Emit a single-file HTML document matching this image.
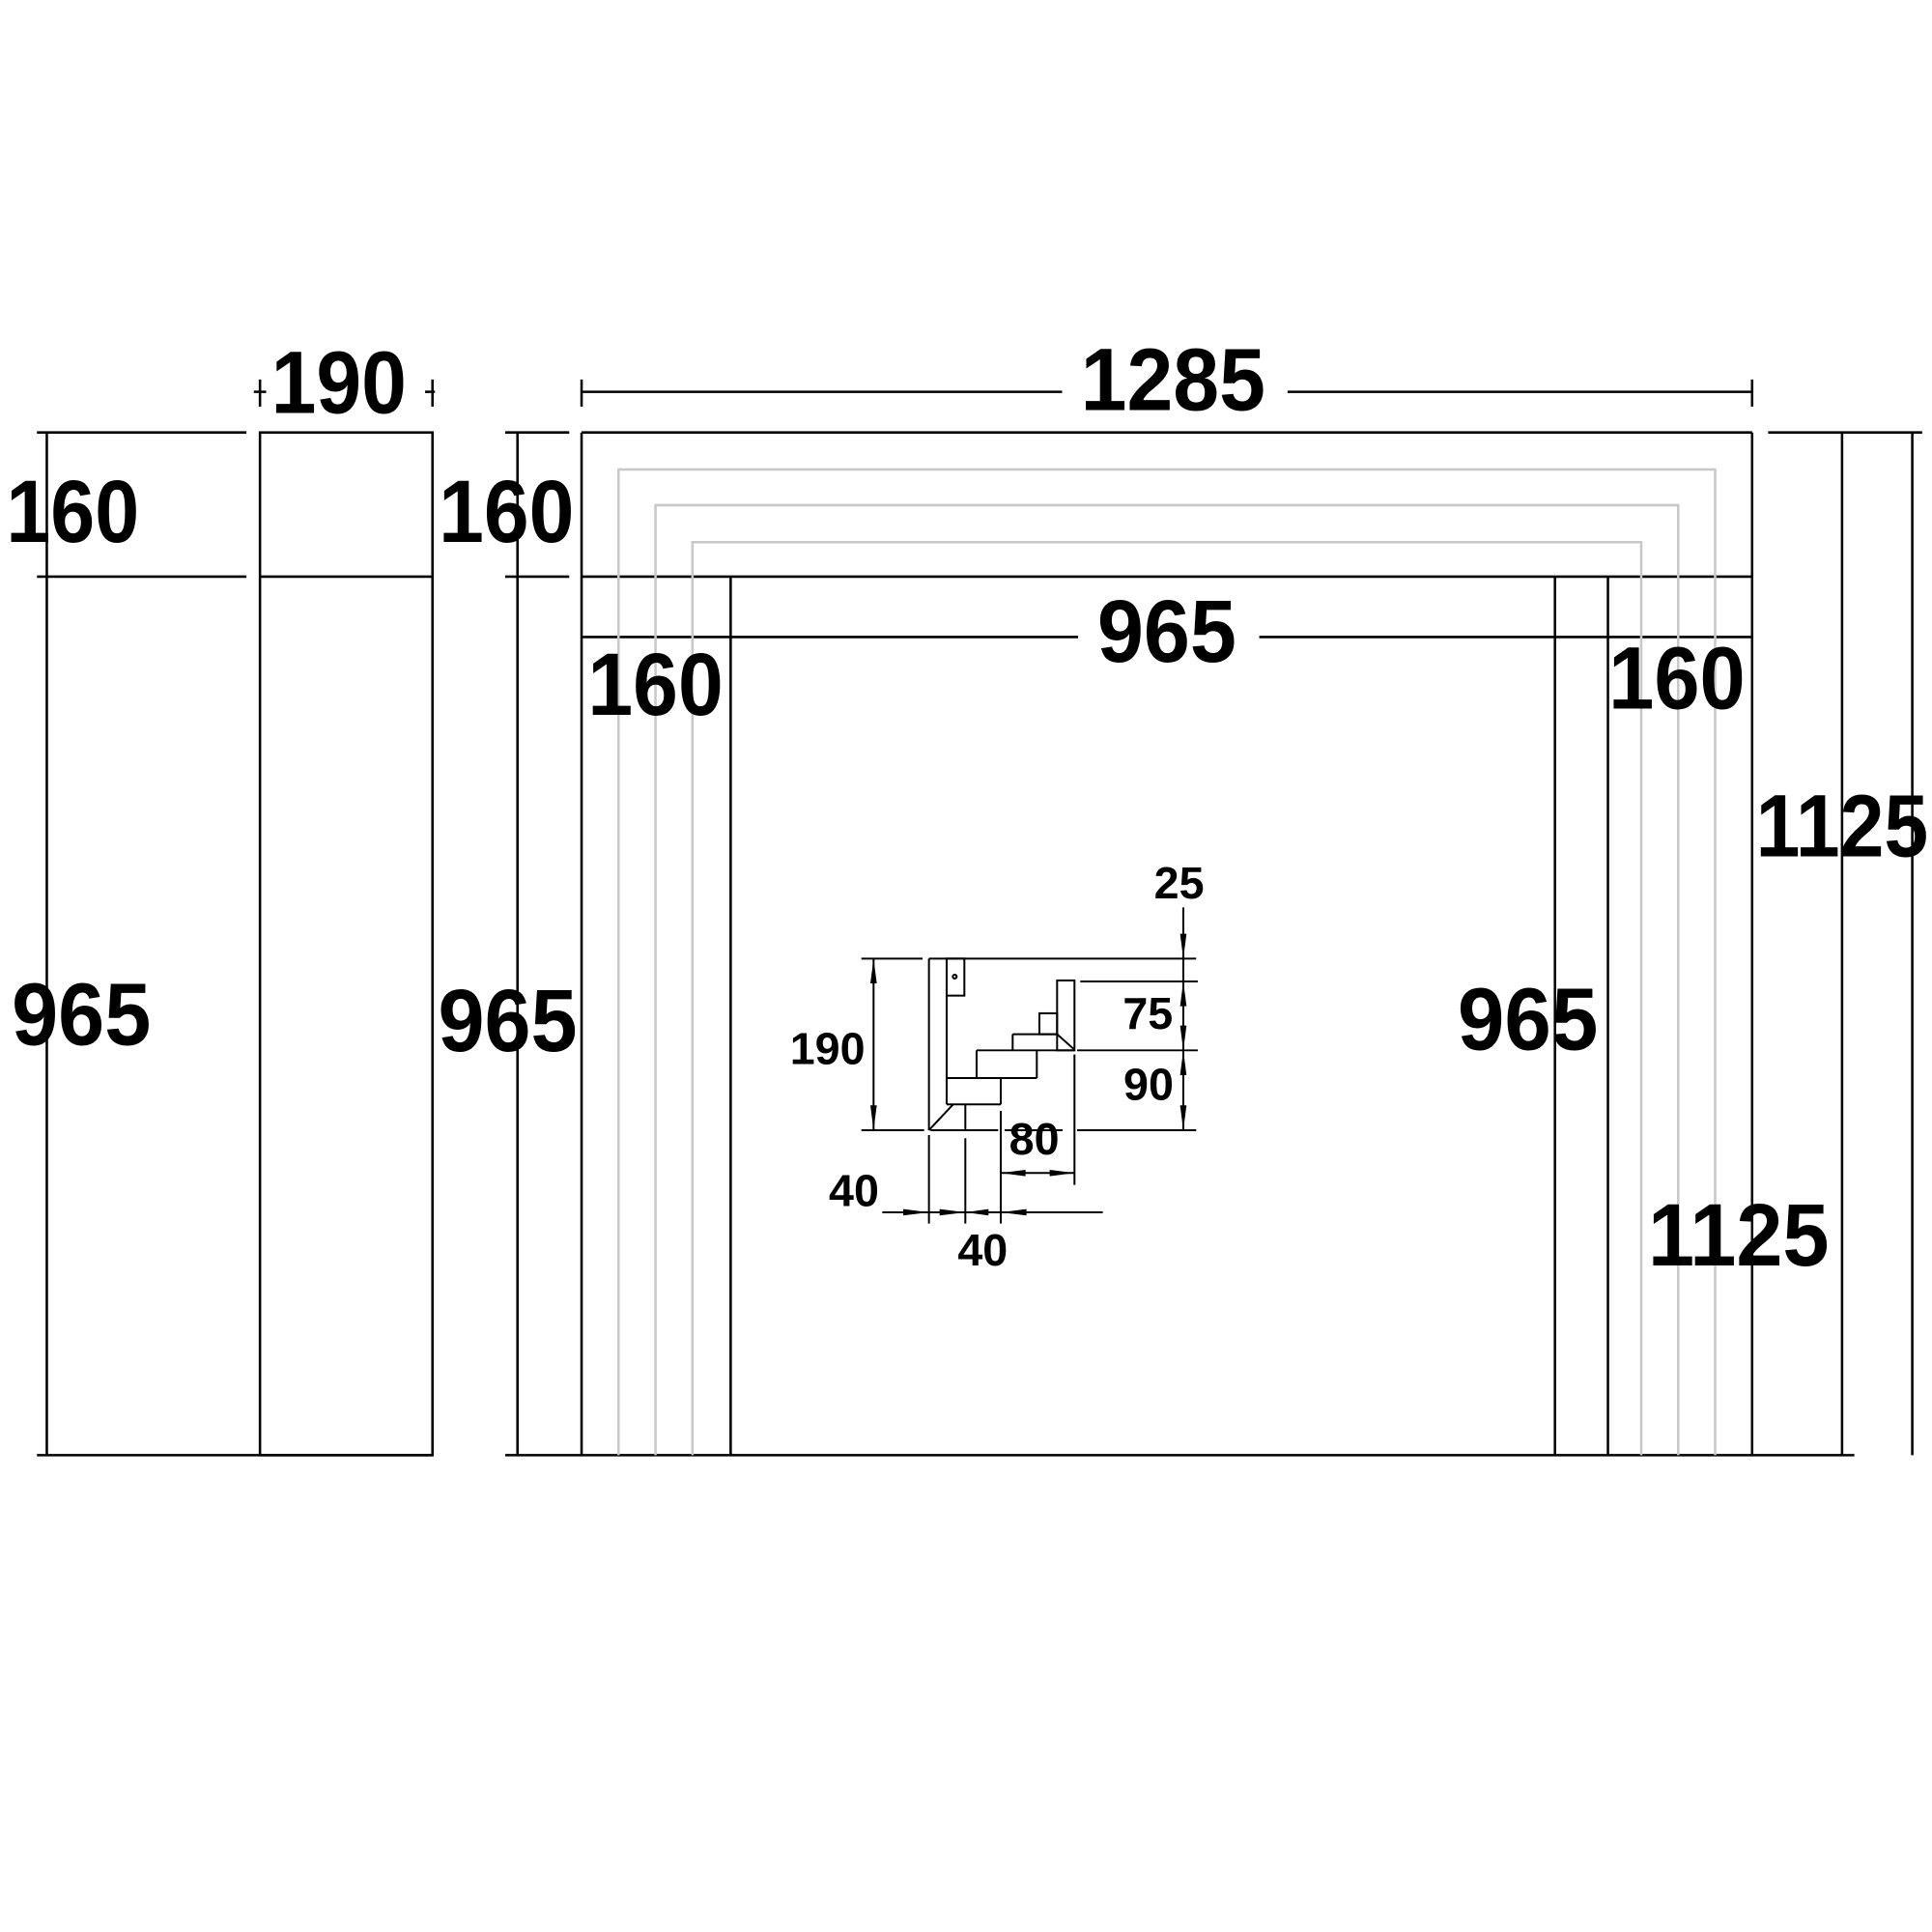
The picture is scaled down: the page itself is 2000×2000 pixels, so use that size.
<!DOCTYPE html>
<html><head><style>html,body{margin:0;padding:0;background:#fff}svg{display:block}</style></head>
<body>
<svg width="2000" height="2000" viewBox="0 0 1568 1568" xmlns="http://www.w3.org/2000/svg" font-family="Liberation Sans, sans-serif" font-weight="bold">
<g stroke="#000" stroke-width="2" fill="none">
<rect x="211" y="351" width="140" height="830"/>
<line x1="211" y1="468" x2="351" y2="468"/>
<line x1="38" y1="351" x2="38" y2="1181"/>
<line x1="30" y1="351" x2="200" y2="351"/>
<line x1="30" y1="468" x2="200" y2="468"/>
<line x1="30" y1="1181" x2="351" y2="1181"/>
<line x1="211" y1="308" x2="211" y2="330"/><line x1="351" y1="308" x2="351" y2="330"/>
<line x1="206" y1="318" x2="216" y2="318"/><line x1="345" y1="318" x2="353" y2="318"/>
<line x1="472" y1="351" x2="1422" y2="351"/>
<line x1="472" y1="351" x2="472" y2="1181"/>
<line x1="1422" y1="351" x2="1422" y2="1181"/>
<line x1="472" y1="468" x2="1422" y2="468"/>
<line x1="593" y1="468" x2="593" y2="1181"/>
<line x1="1262" y1="468" x2="1262" y2="1181"/>
<line x1="1305" y1="468" x2="1305" y2="1181"/>
<line x1="410" y1="1181" x2="1505" y2="1181"/>
<line x1="420" y1="351" x2="420" y2="1181"/>
<line x1="410" y1="351" x2="462" y2="351"/>
<line x1="410" y1="468" x2="462" y2="468"/>
<line x1="472" y1="308" x2="472" y2="330"/><line x1="1422" y1="308" x2="1422" y2="330"/>
<line x1="472" y1="318" x2="862" y2="318"/><line x1="1045" y1="318" x2="1422" y2="318"/>
<line x1="472" y1="517" x2="875" y2="517"/><line x1="1022" y1="517" x2="1422" y2="517"/>
<line x1="1435" y1="351" x2="1560" y2="351"/>
<line x1="1495" y1="351" x2="1495" y2="1181"/>
<line x1="1552" y1="351" x2="1552" y2="1181"/>
</g>
<g stroke="#c8c8c8" stroke-width="2" fill="none">
<polyline points="502,1181 502,381 1392,381 1392,1181"/>
<polyline points="532,1181 532,410 1362,410 1362,1181"/>
<polyline points="562,1181 562,440 1332,440 1332,1181"/>
</g>
<g font-size="72" fill="#000" text-anchor="middle">
<text x="952" y="333" textLength="150" lengthAdjust="spacingAndGlyphs">1285</text>
<text x="275" y="335" textLength="110" lengthAdjust="spacingAndGlyphs">190</text>
<text x="59" y="440" textLength="108" lengthAdjust="spacingAndGlyphs">160</text>
<text x="66" y="848" textLength="113" lengthAdjust="spacingAndGlyphs">965</text>
<text x="411" y="440" textLength="110" lengthAdjust="spacingAndGlyphs">160</text>
<text x="412" y="853" textLength="113" lengthAdjust="spacingAndGlyphs">965</text>
<text x="947" y="537" textLength="113" lengthAdjust="spacingAndGlyphs">965</text>
<text x="532" y="580" textLength="110" lengthAdjust="spacingAndGlyphs">160</text>
<text x="1361" y="575" textLength="111" lengthAdjust="spacingAndGlyphs">160</text>
<text x="1240" y="852" textLength="114" lengthAdjust="spacingAndGlyphs">965</text>
<text x="1495" y="695" textLength="140" lengthAdjust="spacingAndGlyphs">1125</text>
<text x="1411" y="1027" textLength="147" lengthAdjust="spacingAndGlyphs">1125</text>
</g>
<g transform="scale(0.784) translate(800,880) scale(0.3333)">
<g stroke="#000" stroke-width="6" fill="none">
<line x1="275" y1="337" x2="465" y2="337"/><line x1="485" y1="337" x2="1315" y2="337"/>
<line x1="485" y1="337" x2="485" y2="870"/>
<line x1="540" y1="337" x2="540" y2="790"/>
<rect x="540" y="337" width="55" height="115"/>
<circle cx="565" cy="393" r="6"/>
<line x1="485" y1="870" x2="560" y2="790"/>
<line x1="540" y1="790" x2="708" y2="790"/>
<line x1="708" y1="708" x2="708" y2="790"/>
<line x1="540" y1="708" x2="820" y2="708"/>
<line x1="633" y1="622" x2="633" y2="708"/>
<line x1="820" y1="622" x2="820" y2="708"/>
<line x1="633" y1="622" x2="937" y2="622"/>
<line x1="745" y1="572" x2="745" y2="622"/>
<line x1="745" y1="572" x2="883" y2="572"/>
<line x1="883" y1="572" x2="937" y2="620"/>
<rect x="828" y="507" width="55" height="65"/>
<rect x="883" y="405" width="54" height="217"/>
<line x1="955" y1="408" x2="1320" y2="408"/>
<line x1="945" y1="622" x2="1320" y2="622"/>
<line x1="275" y1="870" x2="470" y2="870"/><line x1="490" y1="870" x2="700" y2="870"/>
<line x1="720" y1="870" x2="900" y2="870"/><line x1="945" y1="870" x2="1315" y2="870"/>
<line x1="1275" y1="178" x2="1275" y2="870"/>
<line x1="313" y1="337" x2="313" y2="870"/>
<line x1="485" y1="885" x2="485" y2="1160"/>
<line x1="598" y1="790" x2="598" y2="870"/><line x1="598" y1="895" x2="598" y2="1160"/>
<line x1="708" y1="810" x2="708" y2="1160"/>
<line x1="937" y1="635" x2="937" y2="1040"/>
<line x1="708" y1="1003" x2="937" y2="1003"/>
<line x1="340" y1="1125" x2="1025" y2="1125"/>
</g>
<g fill="#000">
<polygon points="1275,337 1265,260 1285,260"/>
<polygon points="1275,408 1265,485 1285,485"/>
<polygon points="1275,622 1265,545 1285,545"/>
<polygon points="1275,622 1265,699 1285,699"/>
<polygon points="1275,870 1265,793 1285,793"/>
<polygon points="313,337 303,414 323,414"/>
<polygon points="313,870 303,793 323,793"/>
<polygon points="708,1003 785,993 785,1013"/>
<polygon points="937,1003 860,993 860,1013"/>
<polygon points="485,1125 405,1115 405,1135"/>
<polygon points="598,1125 518,1115 518,1135"/>
<polygon points="598,1125 670,1115 670,1135"/>
<polygon points="708,1125 788,1115 788,1135"/>
</g>
<g font-size="140" fill="#000" text-anchor="middle">
<text x="1262" y="150">25</text>
<text x="1165" y="555">75</text>
<text x="1167" y="775">90</text>
<text x="170" y="665">190</text>
<text x="812" y="945">80</text>
<text x="252" y="1105">40</text>
<text x="652" y="1290">40</text>
</g>
</g>
</svg>
</body></html>
